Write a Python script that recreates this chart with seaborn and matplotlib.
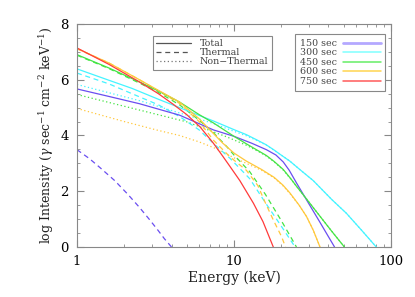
import matplotlib
matplotlib.use("Agg")
import matplotlib.pyplot as plt
import seaborn as sns
from matplotlib.lines import Line2D
from matplotlib.ticker import MultipleLocator

# Spectra: energy (keV) and log intensity
# 150 sec
e150_tot = [1, 1.6, 2.5, 4.5, 7.4, 10, 13, 16.1, 18.5, 20.6, 22.5, 25, 30, 35, 43.7]
i150_tot = [5.67, 5.4, 5.14, 4.73, 4.2, 3.97, 3.72, 3.49, 3.3, 3.05, 2.75, 2.3, 1.55, 0.92, 0.0]
e150_th = [1, 1.2, 1.4, 1.74, 2.1, 2.5, 2.9, 3.28, 3.6, 4.0]
i150_th = [3.49, 3.17, 2.85, 2.38, 1.9, 1.42, 0.98, 0.6, 0.3, 0.0]

# 300 sec
e300_tot = [1, 1.6, 2.24, 3.3, 4.5, 6, 7.4, 10, 12, 14, 16, 18, 19.6, 22.7, 26, 32, 42, 52, 65, 80.6]
i300_tot = [6.39, 5.98, 5.69, 5.3, 5.0, 4.72, 4.52, 4.21, 4.03, 3.84, 3.67, 3.48, 3.33, 3.08, 2.8, 2.38, 1.7, 1.21, 0.6, 0.0]
e300_th = [1, 1.6, 2.24, 3.3, 4.53, 6, 7.39, 9.44, 12.6, 15.8, 20, 24.5]
i300_th = [6.24, 5.85, 5.5, 5.1, 4.67, 4.2, 3.72, 3.18, 2.45, 1.6, 0.75, 0.0]
e300_nt = [1, 2.5, 5, 7.4, 10, 12, 14, 16, 18, 19.6, 22.7, 26, 32, 42, 52, 65, 80.6]
i300_nt = [5.83, 5.25, 4.73, 4.43, 4.15, 3.99, 3.82, 3.66, 3.47, 3.33, 3.08, 2.8, 2.38, 1.7, 1.21, 0.6, 0.0]

# 450 sec
e450_tot = [1, 1.6, 2.5, 3.3, 4.5, 6, 7.4, 10, 12, 14.6, 16.1, 18, 20.6, 23, 25, 29, 35, 42, 50.5]
i450_tot = [6.9, 6.42, 5.92, 5.6, 5.2, 4.75, 4.45, 3.97, 3.7, 3.42, 3.28, 3.07, 2.78, 2.45, 2.18, 1.72, 1.13, 0.56, 0.0]
e450_th = [1, 1.6, 2.5, 3.3, 4.5, 6, 7.4, 9, 10, 12.6, 15.8, 20, 25]
i450_th = [6.88, 6.4, 5.88, 5.55, 5.1, 4.55, 4.1, 3.6, 3.3, 2.7, 1.9, 0.95, 0.0]
e450_nt = [1, 2.24, 5, 9, 12, 14.6, 16.1, 18, 20.6, 23, 25, 29, 35, 42, 50.5]
i450_nt = [5.47, 4.98, 4.49, 3.95, 3.65, 3.4, 3.26, 3.06, 2.76, 2.44, 2.18, 1.72, 1.13, 0.56, 0.0]

# 600 sec
e600_tot = [1, 1.6, 2.5, 3.3, 4.5, 6, 7.4, 8.5, 10, 12, 15, 18, 20.5, 22.7, 26, 29, 32, 35.3]
i600_tot = [7.12, 6.6, 6.0, 5.62, 5.2, 4.6, 4.07, 3.72, 3.37, 3.08, 2.78, 2.5, 2.22, 1.94, 1.5, 1.09, 0.6, 0.0]
e600_th = [1, 1.6, 2.5, 3.3, 4.5, 6, 7.4, 9.4, 12, 14.2, 15.8, 17.8, 20.1, 21.3]
i600_th = [7.11, 6.6, 6.0, 5.6, 5.15, 4.5, 3.83, 3.24, 2.75, 2.2, 1.6, 0.97, 0.37, 0.0]
e600_nt = [1, 2, 3.2, 4.5, 6, 7.6, 10, 12, 15, 18, 20.5, 22.7, 26, 29, 32, 35.3]
i600_nt = [4.97, 4.5, 4.2, 4.0, 3.77, 3.54, 3.2, 3.0, 2.75, 2.48, 2.2, 1.92, 1.5, 1.09, 0.6, 0.0]

# 750 sec
e750_tot = [1, 1.6, 2.5, 3.3, 4.1, 5.0, 6.1, 7.4, 8.5, 9.4, 10.9, 13.3, 15.3, 17.8]
i750_tot = [7.14, 6.55, 5.92, 5.5, 5.12, 4.75, 4.3, 3.72, 3.25, 2.9, 2.38, 1.57, 0.91, 0.0]

times = ["150 sec", "300 sec", "450 sec", "600 sec", "750 sec"]
colors = ["#6a4ef0", "#44f4ff", "#44e444", "#ffc83c", "#ff3a3a"]
legend_colors = ["#b4a8ff", "#80ffff", "#66ee66", "#ffd450", "#ff5a5a"]

sns.set_style("ticks")
plt.rcParams["font.family"] = ["DejaVu Serif"]
plt.rcParams["mathtext.fontset"] = "dejavuserif"

fig = plt.figure(figsize=(4.15, 2.97), dpi=100)
ax = fig.add_axes([0.1855, 0.1684, 0.7566, 0.7508])

dash = (0, (4, 3))
dot = (0, (1, 2))
lw = 0.9

# dotted first, then dashed, then solid on top
for e, i, c in [(e300_nt, i300_nt, colors[1]), (e450_nt, i450_nt, colors[2]),
                (e600_nt, i600_nt, colors[3])]:
    sns.lineplot(x=e, y=i, color=c, linestyle=dot, lw=lw, ax=ax, sort=False, estimator=None)

for e, i, c in [(e150_th, i150_th, colors[0]), (e300_th, i300_th, colors[1]),
                (e450_th, i450_th, colors[2]), (e600_th, i600_th, colors[3])]:
    sns.lineplot(x=e, y=i, color=c, linestyle=dash, lw=lw, ax=ax, sort=False, estimator=None)

for e, i, c in [(e150_tot, i150_tot, colors[0]), (e300_tot, i300_tot, colors[1]),
                (e450_tot, i450_tot, colors[2]), (e600_tot, i600_tot, colors[3]),
                (e750_tot, i750_tot, colors[4])]:
    sns.lineplot(x=e, y=i, color=c, lw=lw, ax=ax, sort=False, estimator=None)

ax.set_xscale("log")
ax.set_xlim(1, 100)
ax.set_ylim(0, 8)
ax.yaxis.set_major_locator(MultipleLocator(2))
ax.yaxis.set_minor_locator(MultipleLocator(0.5))
ax.set_xticks([1, 10, 100])
ax.set_xticklabels(["1", "10", "100"])

for s in ax.spines.values():
    s.set_color("#888888")
    s.set_linewidth(0.8)
ax.tick_params(which="both", direction="in", top=True, right=True, color="#888888",
               labelcolor="black", labelsize=9.5)
ax.tick_params(which="major", length=5, width=0.8, pad=6)
ax.tick_params(which="minor", length=2.5, width=0.6)

ax.set_xlabel("Energy (keV)", fontsize=10, color="#222222", labelpad=2)
ax.set_ylabel(r"log Intensity ($\gamma$ sec$^{-1}$ cm$^{-2}$ keV$^{-1}$)", fontsize=9,
              color="#222222", labelpad=3)

# line style legend
style_handles = [Line2D([], [], color="#555555", lw=0.9),
                 Line2D([], [], color="#555555", lw=0.9, linestyle=dash),
                 Line2D([], [], color="#777777", lw=0.9, linestyle=dot)]
leg1 = ax.legend(style_handles, ["Total", "Thermal", "Non\u2212Thermal"], loc="upper left",
                 bbox_to_anchor=(0.241, 0.948), borderaxespad=0, fontsize=6.8,
                 frameon=True, fancybox=False, edgecolor="#888888", framealpha=1,
                 handlelength=3.7, labelspacing=0.0, borderpad=0.4, handletextpad=0.9,
                 labelcolor="#444444")
leg1.get_frame().set_linewidth(0.8)
ax.add_artist(leg1)

# time legend
time_handles = [Line2D([], [], color=c, lw=2.0 if k == 0 else 1.1)
                for k, c in enumerate(legend_colors)]
leg2 = ax.legend(time_handles, times, loc="upper right", bbox_to_anchor=(0.982, 0.954),
                 borderaxespad=0, fontsize=6.8, frameon=True, fancybox=False,
                 edgecolor="#888888", framealpha=1, markerfirst=False,
                 handlelength=4.0, labelspacing=0.05, borderpad=0.5, handletextpad=0.6,
                 labelcolor="#444444")
leg2.get_frame().set_linewidth(0.8)

fig.savefig("out.png", dpi=100)
